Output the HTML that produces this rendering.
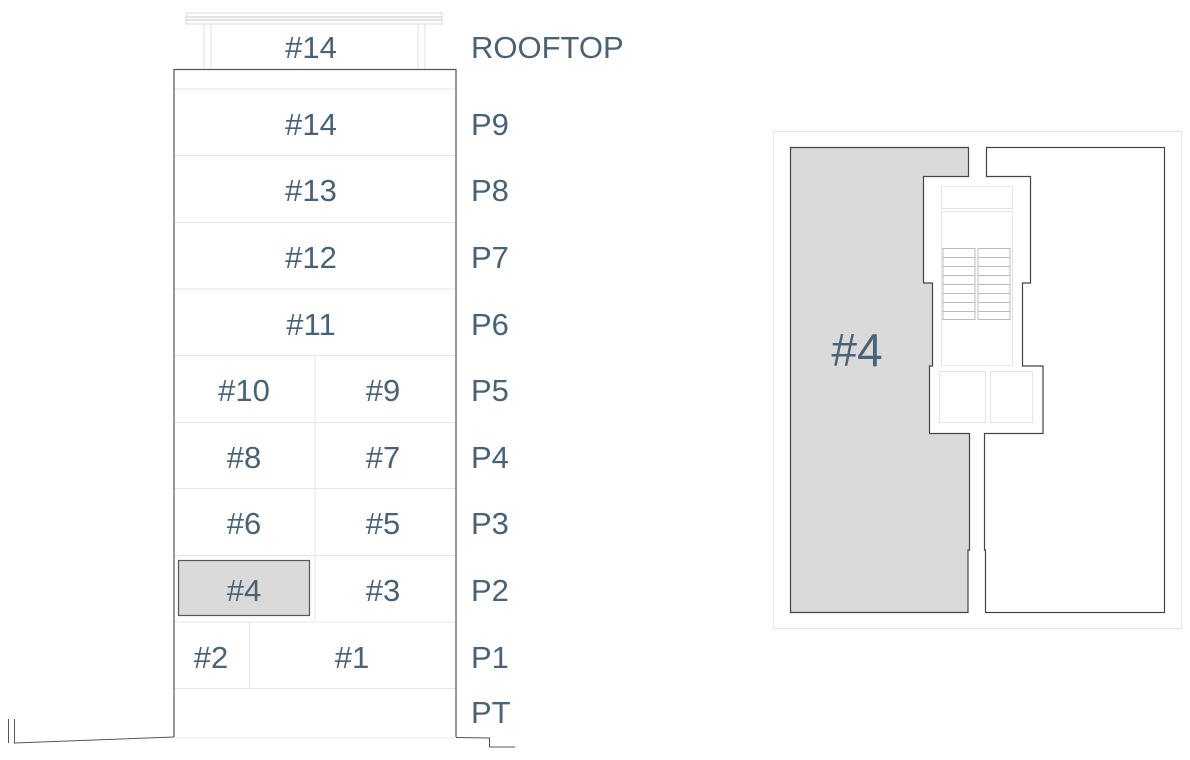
<!DOCTYPE html>
<html><head><meta charset="utf-8"><style>
html,body{margin:0;padding:0;background:#fff;}
svg{display:block;}
text{font-family:"Liberation Sans",Arial,sans-serif;fill:#4a6276;}
</style></head><body>
<svg width="1190" height="760" viewBox="0 0 1190 760" xmlns="http://www.w3.org/2000/svg">
<!-- rooftop -->
<rect x="186" y="13" width="256" height="11" fill="none" stroke="#d8d8d8" stroke-width="1"/>
<line x1="186" y1="17" x2="442" y2="17" stroke="#c8c8c8"/>
<line x1="186" y1="20" x2="442" y2="20" stroke="#c8c8c8"/>
<line x1="204" y1="24" x2="204" y2="69" stroke="#e0e0e0"/>
<line x1="211" y1="24" x2="211" y2="69" stroke="#e0e0e0"/>
<line x1="418" y1="24" x2="418" y2="69" stroke="#e0e0e0"/>
<line x1="425" y1="24" x2="425" y2="69" stroke="#e0e0e0"/>
<!-- floors -->
<g stroke="#e6e6e6" stroke-width="1">
<line x1="174" y1="89" x2="456" y2="89"/>
<line x1="174" y1="155.5" x2="456" y2="155.5"/>
<line x1="174" y1="222.5" x2="456" y2="222.5"/>
<line x1="174" y1="289" x2="456" y2="289"/>
<line x1="174" y1="355.5" x2="456" y2="355.5"/>
<line x1="174" y1="422.5" x2="456" y2="422.5"/>
<line x1="174" y1="488.5" x2="456" y2="488.5"/>
<line x1="174" y1="555.5" x2="456" y2="555.5"/>
<line x1="174" y1="622" x2="456" y2="622"/>
<line x1="174" y1="688.5" x2="456" y2="688.5"/>
<line x1="174" y1="738" x2="456" y2="738"/>
<line x1="315" y1="355" x2="315" y2="622"/>
<line x1="249.5" y1="622" x2="249.5" y2="688"/>
</g>
<rect x="178.5" y="560.5" width="131" height="55" fill="#dadada" stroke="#555" stroke-width="1.2"/>
<path d="M174 737 L174 69.5 L456 69.5 L456 737" fill="none" stroke="#555" stroke-width="1.2"/>
<path d="M8.5 719 L8.5 743 M14.5 719 L14.5 743 L174 737" fill="none" stroke="#555" stroke-width="1"/>
<path d="M456 737.5 L489.5 738 L489.5 747 L515 747" fill="none" stroke="#555" stroke-width="1"/>
<g font-size="31" text-anchor="middle">
<text x="311" y="58">#14</text>
<text x="311" y="135">#14</text>
<text x="311" y="201">#13</text>
<text x="311" y="268">#12</text>
<text x="311" y="335">#11</text>
<text x="244" y="401">#10</text>
<text x="383" y="401">#9</text>
<text x="244" y="468">#8</text>
<text x="383" y="468">#7</text>
<text x="244" y="534">#6</text>
<text x="383" y="534">#5</text>
<text x="244" y="601">#4</text>
<text x="383" y="601">#3</text>
<text x="211" y="668">#2</text>
<text x="352" y="668">#1</text>
</g>
<g font-size="31">
<text x="471" y="58">ROOFTOP</text>
<text x="471" y="135">P9</text>
<text x="471" y="201">P8</text>
<text x="471" y="268">P7</text>
<text x="471" y="335">P6</text>
<text x="471" y="401">P5</text>
<text x="471" y="468">P4</text>
<text x="471" y="534">P3</text>
<text x="471" y="601">P2</text>
<text x="471" y="668">P1</text>
<text x="471" y="723">PT</text>
</g>
<!-- plan -->
<rect x="773.5" y="131.5" width="408" height="497" fill="none" stroke="#e6e6e6"/>
<path d="M790.5 147.5 L968.5 147.5 L968.5 176.5 L923.5 176.5 L923.5 283 L932.5 283 L932.5 366 L929.5 366 L929.5 433.5 L969.5 433.5 L969.5 550 L968 550 L968 612.5 L790.5 612.5 Z" fill="#dadada" stroke="#444" stroke-width="1.2"/>
<path d="M986.5 147.5 L1164.5 147.5 L1164.5 612.5 L985.5 612.5 L985.5 550 L984.5 550 L984.5 433.5 L1043 433.5 L1043 366 L1022.5 366 L1022.5 283 L1030.5 283 L1030.5 176.5 L986.5 176.5 Z" fill="#fff" stroke="#444" stroke-width="1.2"/>
<g fill="none" stroke="#e4e4e4">
<rect x="941.5" y="186.5" width="71" height="22"/>
<rect x="941.5" y="211.5" width="71" height="154"/>
<rect x="939.5" y="371.5" width="46" height="51"/>
<rect x="990.5" y="371.5" width="42" height="51"/>
</g>
<g stroke="#bbb" stroke-width="1">
<line x1="943" y1="248" x2="943" y2="320"/><line x1="975" y1="248" x2="975" y2="320"/>
<line x1="978" y1="248" x2="978" y2="320"/><line x1="1010" y1="248" x2="1010" y2="320"/>
<path d="M943 248.5H975M978 248.5H1010M943 257.5H975M978 257.5H1010M943 266.5H975M978 266.5H1010M943 275.5H975M978 275.5H1010M943 284.5H975M978 284.5H1010M943 293.5H975M978 293.5H1010M943 302.5H975M978 302.5H1010M943 311.5H975M978 311.5H1010M943 319.5H975M978 319.5H1010"/>
</g>
<text x="857" y="366" font-size="46" text-anchor="middle">#4</text>
</svg>
</body></html>
